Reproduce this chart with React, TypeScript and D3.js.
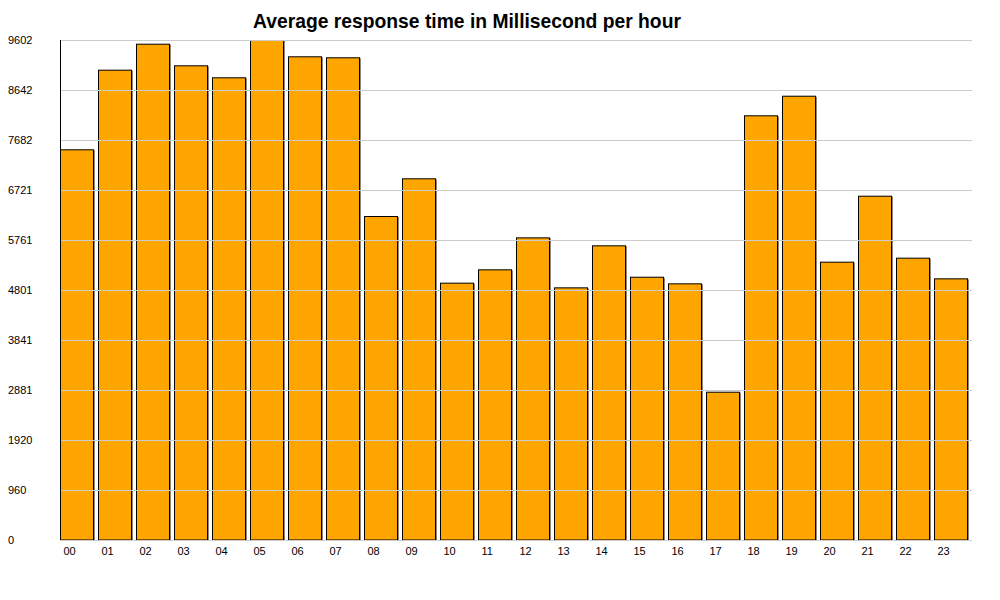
import React from "react";
import * as d3 from "d3";

const title = "Average response time in Millisecond per hour";
const hours = ["00","01","02","03","04","05","06","07","08","09","10","11","12","13","14","15","16","17","18","19","20","21","22","23"];
const values = [7503,9032,9531,9116,8886,9602,9289,9270,6222,6946,4942,5198,5812,4852,5659,5056,4929,2848,8156,8532,5345,6612,5422,5025];
const yTicks = [0,960,1920,2881,3841,4801,5761,6721,7682,8642,9602];
const yMax = 9602;

export default function App() {
  const W = 1000, H = 600;
  const left = 60, right = 968, top = 40, bottom = 540;
  const x = d3.scaleBand<string>().domain(hours).range([left, right]).paddingInner(4 / 38).paddingOuter(0);
  const y = d3.scaleLinear().domain([0, yMax]).range([bottom, top]);
  const font = "Arial, 'Liberation Sans', sans-serif";
  return (
    <svg width={W} height={H} style={{ position: "absolute", left: 0, top: 0, background: "#fff" }}>
      <text x={467} y={28} textAnchor="middle" fontFamily={font} fontWeight="bold" fontSize={19.3} fill="#000">{title}</text>
      {hours.map((h, i) => {
        const bx = x(h)!;
        const by = y(values[i]);
        const bw = x.bandwidth();
        return (
          <g key={h}>
            <rect x={bx + 1} y={by + 1} width={bw} height={bottom - by - 1} fill="#888" />
            <rect x={bx + 0.5} y={by + 0.5} width={bw - 1} height={bottom - by - 0.5} fill="#FFA500" stroke="#000" strokeWidth={1} />
          </g>
        );
      })}
      {yTicks.map((t) => (
        <g key={t}>
          {t > 0 && <line x1={left} x2={972} y1={Math.round(y(t)) + 0.5} y2={Math.round(y(t)) + 0.5} stroke="#cccccc" strokeWidth={1} />}
          <text x={8} y={y(t) + 4} fontFamily={font} fontSize={11} fill="#000">{t}</text>
        </g>
      ))}
      <line x1={left} x2={972} y1={bottom + 0.5} y2={bottom + 0.5} stroke="#cccccc" strokeWidth={1} />
      <line x1={left + 0.5} x2={left + 0.5} y1={top} y2={bottom} stroke="#000" strokeWidth={1} />
      {hours.map((h) => (
        <text key={h} x={x(h)! + 3.5} y={555} fontFamily={font} fontSize={11} fill="#000">{h}</text>
      ))}
    </svg>
  );
}
